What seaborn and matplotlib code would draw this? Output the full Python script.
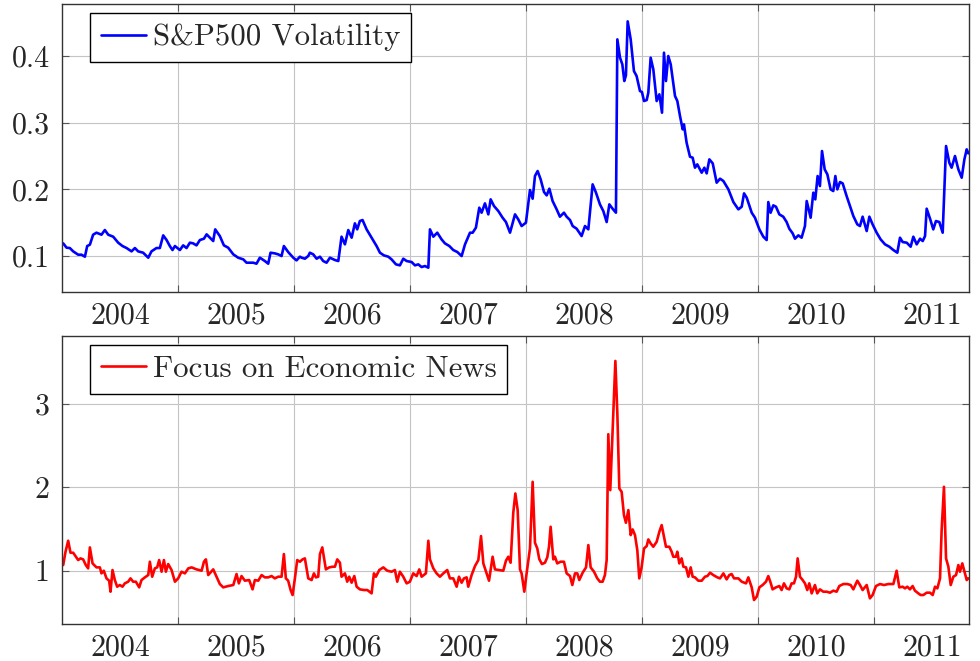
import matplotlib
matplotlib.use("Agg")
import matplotlib.pyplot as plt
import seaborn as sns
from matplotlib.ticker import FixedLocator, MultipleLocator, FormatStrFormatter, NullFormatter

# S&P500 volatility (decimal year, value)
vol_year = [
    2004.010, 2004.039, 2004.067, 2004.096, 2004.139, 2004.168, 2004.197, 2004.217, 2004.240, 2004.268,
    2004.297, 2004.340, 2004.369, 2004.398, 2004.441, 2004.484, 2004.521, 2004.556, 2004.599, 2004.628,
    2004.656, 2004.699, 2004.743, 2004.771, 2004.814, 2004.843, 2004.872, 2004.901, 2004.929, 2004.952,
    2004.973, 2005.016, 2005.044, 2005.073, 2005.102, 2005.130, 2005.159, 2005.188, 2005.223, 2005.246,
    2005.274, 2005.303, 2005.320, 2005.360, 2005.395, 2005.432, 2005.476, 2005.518, 2005.562, 2005.590,
    2005.648, 2005.676, 2005.705, 2005.748, 2005.777, 2005.797, 2005.834, 2005.863, 2005.892, 2005.912,
    2005.949, 2005.993, 2006.021, 2006.050,
    2006.065, 2006.093, 2006.122, 2006.136, 2006.165, 2006.194, 2006.223, 2006.251, 2006.280, 2006.309,
    2006.352, 2006.381, 2006.409, 2006.438, 2006.467, 2006.496, 2006.524, 2006.544, 2006.567, 2006.590,
    2006.625, 2006.668, 2006.711, 2006.740, 2006.774, 2006.812, 2006.840, 2006.878, 2006.912, 2006.941,
    2006.970, 2007.013, 2007.042, 2007.070, 2007.099, 2007.128, 2007.157, 2007.171, 2007.200, 2007.234,
    2007.271, 2007.300, 2007.338, 2007.372, 2007.407, 2007.444, 2007.473, 2007.516, 2007.539, 2007.567,
    2007.596, 2007.616, 2007.645, 2007.674, 2007.694, 2007.723, 2007.760, 2007.797, 2007.826, 2007.861,
    2007.904, 2007.932, 2007.961, 2007.998,
    2008.033, 2008.056, 2008.076, 2008.099, 2008.125, 2008.154, 2008.177, 2008.200, 2008.228, 2008.263,
    2008.291, 2008.326, 2008.349, 2008.378, 2008.401, 2008.435, 2008.478, 2008.507, 2008.536, 2008.573,
    2008.602, 2008.636, 2008.665, 2008.694, 2008.717, 2008.745, 2008.774, 2008.786, 2008.809, 2008.829,
    2008.846, 2008.860, 2008.875, 2008.901, 2008.929, 2008.952, 2008.981, 2008.998, 2009.016, 2009.039,
    2009.053, 2009.073, 2009.096, 2009.125, 2009.148, 2009.171, 2009.188, 2009.205, 2009.225, 2009.246,
    2009.283, 2009.303, 2009.326, 2009.349, 2009.360, 2009.383, 2009.412, 2009.435, 2009.455, 2009.475,
    2009.513, 2009.536, 2009.556, 2009.579, 2009.608, 2009.642, 2009.671, 2009.700, 2009.743, 2009.786,
    2009.829, 2009.858, 2009.878, 2009.901, 2009.944, 2009.972, 2010.010,
    2010.044, 2010.073, 2010.087, 2010.107, 2010.130, 2010.153, 2010.182, 2010.216, 2010.245, 2010.268,
    2010.297, 2010.317, 2010.346, 2010.374, 2010.403, 2010.418, 2010.452, 2010.475, 2010.492, 2010.512,
    2010.532, 2010.550, 2010.573, 2010.596, 2010.624, 2010.647, 2010.665, 2010.682, 2010.705, 2010.728,
    2010.762, 2010.791, 2010.820, 2010.854, 2010.877, 2010.900, 2010.935, 2010.958, 2010.986, 2011.021,
    2011.055, 2011.093, 2011.130, 2011.165, 2011.199, 2011.222, 2011.245, 2011.280, 2011.314, 2011.337,
    2011.366, 2011.395, 2011.418, 2011.438, 2011.452, 2011.481, 2011.509, 2011.532, 2011.561, 2011.590,
    2011.619, 2011.647, 2011.667, 2011.696, 2011.725, 2011.754, 2011.777, 2011.797, 2011.811,
]
vol_value = [
    0.119, 0.1125, 0.112, 0.107, 0.102, 0.102, 0.099, 0.115, 0.117, 0.132,
    0.135, 0.132, 0.139, 0.132, 0.129, 0.120, 0.115, 0.112, 0.107, 0.112,
    0.107, 0.105, 0.0975, 0.107, 0.112, 0.112, 0.131, 0.124, 0.115, 0.109,
    0.115, 0.109, 0.116, 0.112, 0.120, 0.119, 0.116, 0.124, 0.126, 0.1325,
    0.1275, 0.1225, 0.140, 0.130, 0.116, 0.1125, 0.1025, 0.0975, 0.095, 0.090,
    0.090, 0.0885, 0.0975, 0.0925, 0.0885, 0.105, 0.104, 0.1025, 0.100, 0.115,
    0.106, 0.0975, 0.0935, 0.099,
    0.0975, 0.096, 0.100, 0.105, 0.1025, 0.096, 0.099, 0.0925, 0.090, 0.0975,
    0.094, 0.0925, 0.129, 0.1175, 0.139, 0.1275, 0.149, 0.140, 0.1525, 0.154,
    0.140, 0.1275, 0.115, 0.105, 0.101, 0.099, 0.095, 0.0875, 0.086, 0.096,
    0.0925, 0.091, 0.086, 0.0875, 0.0835, 0.085, 0.0825, 0.140, 0.129, 0.135,
    0.125, 0.119, 0.115, 0.109, 0.106, 0.100, 0.1175, 0.135, 0.135, 0.1425,
    0.1725, 0.165, 0.179, 0.1625, 0.185, 0.175, 0.1675, 0.1575, 0.151, 0.135,
    0.1625, 0.155, 0.145, 0.150,
    0.199, 0.186, 0.220, 0.2275, 0.215, 0.196, 0.191, 0.201, 0.1825, 0.170,
    0.159, 0.165, 0.159, 0.154, 0.145, 0.141, 0.130, 0.145, 0.140, 0.2075,
    0.195, 0.1775, 0.1675, 0.151, 0.1775, 0.171, 0.165, 0.425, 0.3975, 0.3875,
    0.3625, 0.371, 0.452, 0.425, 0.3775, 0.370, 0.3475, 0.346, 0.3325, 0.334,
    0.345, 0.3975, 0.380, 0.3325, 0.3425, 0.315, 0.405, 0.3625, 0.400, 0.3875,
    0.340, 0.3325, 0.310, 0.290, 0.2975, 0.270, 0.249, 0.2475, 0.2325, 0.2375,
    0.225, 0.2325, 0.224, 0.245, 0.239, 0.210, 0.216, 0.2125, 0.200, 0.181,
    0.170, 0.174, 0.194, 0.1875, 0.165, 0.1575, 0.140,
    0.129, 0.124, 0.181, 0.165, 0.176, 0.174, 0.1625, 0.159, 0.151, 0.141,
    0.134, 0.126, 0.131, 0.1275, 0.145, 0.1825, 0.1575, 0.195, 0.185, 0.220,
    0.205, 0.2575, 0.230, 0.2225, 0.200, 0.1975, 0.220, 0.200, 0.211, 0.209,
    0.190, 0.175, 0.160, 0.1475, 0.145, 0.159, 0.1375, 0.159, 0.1475, 0.135,
    0.125, 0.1175, 0.114, 0.109, 0.105, 0.1275, 0.121, 0.120, 0.114, 0.129,
    0.1175, 0.126, 0.1225, 0.130, 0.171, 0.156, 0.140, 0.1525, 0.151, 0.135,
    0.265, 0.240, 0.2325, 0.250, 0.230, 0.2175, 0.245, 0.260, 0.254,
]

# Focus on economic news (decimal year, value)
news_year = [
    2004.010, 2004.030, 2004.053, 2004.073, 2004.096, 2004.119, 2004.139, 2004.159, 2004.182, 2004.205,
    2004.225, 2004.240, 2004.263, 2004.297, 2004.326, 2004.340, 2004.360, 2004.383, 2004.406, 2004.418,
    2004.435, 2004.455, 2004.475, 2004.498, 2004.521, 2004.541, 2004.570, 2004.590, 2004.613, 2004.636,
    2004.665, 2004.685, 2004.714, 2004.743, 2004.757, 2004.777, 2004.800, 2004.820, 2004.837, 2004.858,
    2004.878, 2004.895, 2004.915, 2004.944, 2004.973, 2005.001, 2005.030, 2005.059, 2005.088, 2005.117,
    2005.159, 2005.203, 2005.223, 2005.240, 2005.260, 2005.303, 2005.332, 2005.360, 2005.389, 2005.432,
    2005.476, 2005.504, 2005.524, 2005.547, 2005.576, 2005.613, 2005.642, 2005.662, 2005.691, 2005.720,
    2005.748, 2005.777, 2005.806, 2005.834, 2005.863, 2005.892, 2005.912, 2005.929, 2005.949, 2005.970,
    2005.987, 2006.007, 2006.027, 2006.050,
    2006.073, 2006.093, 2006.122, 2006.151, 2006.171, 2006.188, 2006.208, 2006.223, 2006.243, 2006.274,
    2006.303, 2006.332, 2006.352, 2006.372, 2006.395, 2006.409, 2006.438, 2006.458, 2006.475, 2006.496,
    2006.519, 2006.539, 2006.567, 2006.602, 2006.631, 2006.668, 2006.688, 2006.705, 2006.734, 2006.769,
    2006.803, 2006.840, 2006.869, 2006.889, 2006.912, 2006.941, 2006.970, 2006.998, 2007.027, 2007.056,
    2007.079, 2007.099, 2007.136, 2007.157, 2007.171, 2007.200, 2007.228, 2007.257, 2007.286, 2007.320,
    2007.343, 2007.372, 2007.401, 2007.421, 2007.444, 2007.464, 2007.487, 2007.501, 2007.530, 2007.559,
    2007.588, 2007.611, 2007.631, 2007.659, 2007.680, 2007.711, 2007.731, 2007.769, 2007.803, 2007.826,
    2007.846, 2007.866, 2007.889, 2007.907, 2007.927, 2007.947, 2007.961, 2007.984, 2008.004, 2008.033,
    2008.056, 2008.076, 2008.096, 2008.113, 2008.136, 2008.162, 2008.182, 2008.197, 2008.211, 2008.234,
    2008.248, 2008.268, 2008.297, 2008.326, 2008.349, 2008.378, 2008.398, 2008.421, 2008.441, 2008.458,
    2008.487, 2008.516, 2008.536, 2008.556, 2008.585, 2008.613, 2008.636, 2008.659, 2008.679, 2008.694,
    2008.708, 2008.725, 2008.769, 2008.786, 2008.803, 2008.823, 2008.843, 2008.860, 2008.881, 2008.901,
    2008.918, 2008.938, 2008.958, 2008.975, 2008.995, 2009.016, 2009.039, 2009.053, 2009.073, 2009.096,
    2009.125, 2009.148, 2009.168, 2009.188, 2009.205, 2009.234, 2009.254, 2009.268, 2009.291, 2009.303,
    2009.320, 2009.340, 2009.355, 2009.378, 2009.398, 2009.418, 2009.435, 2009.455, 2009.484, 2009.513,
    2009.541, 2009.562, 2009.585, 2009.613, 2009.648, 2009.671, 2009.700, 2009.728, 2009.751, 2009.771,
    2009.792, 2009.829, 2009.858, 2009.895, 2009.915, 2009.944, 2009.964, 2009.987, 2010.010,
    2010.038, 2010.067, 2010.087, 2010.107, 2010.124, 2010.153, 2010.182, 2010.202, 2010.222, 2010.245,
    2010.268, 2010.288, 2010.308, 2010.326, 2010.340, 2010.360, 2010.383, 2010.403, 2010.423, 2010.440,
    2010.461, 2010.489, 2010.509, 2010.532, 2010.561, 2010.590, 2010.619, 2010.647, 2010.676, 2010.699,
    2010.734, 2010.768, 2010.797, 2010.820, 2010.854, 2010.877, 2010.900, 2010.935, 2010.963, 2010.986,
    2011.015, 2011.050, 2011.084, 2011.122, 2011.165, 2011.193, 2011.216, 2011.245, 2011.265, 2011.285,
    2011.308, 2011.331, 2011.351, 2011.380, 2011.400, 2011.423, 2011.452, 2011.481, 2011.504, 2011.524,
    2011.544, 2011.567, 2011.581, 2011.601, 2011.619, 2011.639, 2011.659, 2011.682, 2011.705, 2011.725,
    2011.739, 2011.759, 2011.782, 2011.797, 2011.811,
]
news_value = [
    1.068, 1.228, 1.360, 1.216, 1.216, 1.168, 1.128, 1.148, 1.136, 1.068,
    1.028, 1.280, 1.088, 1.040, 1.040, 0.968, 1.000, 0.908, 0.880, 0.748,
    1.008, 0.888, 0.808, 0.828, 0.808, 0.848, 0.868, 0.908, 0.868, 0.868,
    0.800, 0.888, 0.920, 0.948, 1.108, 0.928, 1.028, 1.040, 1.128, 0.988,
    1.128, 0.988, 1.080, 1.008, 0.868, 0.908, 0.988, 0.968, 1.028, 1.040,
    1.016, 1.000, 1.108, 1.136, 0.948, 1.016, 0.928, 0.840, 0.800, 0.816,
    0.828, 0.960, 0.848, 0.936, 0.880, 0.888, 0.776, 0.888, 0.880, 0.948,
    0.920, 0.920, 0.936, 0.908, 0.928, 0.928, 1.200, 0.908, 0.880, 0.768,
    0.708, 0.908, 1.128, 1.108,
    1.136, 1.148, 0.908, 0.888, 0.968, 0.920, 0.928, 1.200, 1.280, 1.016,
    1.040, 1.048, 1.048, 1.136, 1.096, 0.928, 0.968, 0.868, 0.928, 0.856,
    0.936, 0.808, 0.776, 0.768, 0.768, 0.728, 0.968, 0.928, 1.008, 1.040,
    1.000, 0.988, 1.008, 0.868, 0.988, 0.928, 0.848, 0.868, 0.968, 0.936,
    1.016, 0.928, 0.968, 1.360, 1.136, 1.028, 0.968, 0.928, 0.968, 1.008,
    0.908, 0.908, 0.808, 0.928, 0.856, 0.908, 0.920, 0.808, 0.948, 1.056,
    1.128, 1.416, 1.088, 0.968, 0.880, 1.168, 1.016, 1.008, 1.000, 1.120,
    1.168, 1.096, 1.696, 1.928, 1.728, 1.016, 0.968, 0.748, 0.968, 1.268,
    2.068, 1.336, 1.268, 1.140, 1.080, 1.096, 1.160, 1.288, 1.528, 1.136,
    1.168, 1.088, 1.108, 1.108, 0.968, 0.936, 0.828, 0.968, 0.968, 0.888,
    0.976, 1.040, 1.308, 1.040, 0.988, 0.908, 0.868, 0.868, 0.948, 1.128,
    2.640, 1.968, 3.520, 2.888, 1.988, 1.948, 1.668, 1.576, 1.728, 1.428,
    1.496, 1.428, 1.248, 0.908, 1.040, 1.268, 1.296, 1.376, 1.328, 1.288,
    1.348, 1.468, 1.548, 1.408, 1.288, 1.288, 1.228, 1.168, 1.168, 1.228,
    1.088, 1.148, 1.048, 1.040, 0.928, 1.040, 0.928, 0.920, 0.880, 0.880,
    0.928, 0.936, 0.976, 0.948, 0.920, 0.908, 0.968, 0.896, 0.948, 0.960,
    0.908, 0.908, 0.868, 0.848, 0.920, 0.800, 0.648, 0.688, 0.800,
    0.828, 0.868, 0.936, 0.856, 0.776, 0.800, 0.816, 0.768, 0.848, 0.788,
    0.776, 0.848, 0.848, 0.928, 1.148, 0.928, 0.888, 0.848, 0.768, 0.848,
    0.728, 0.828, 0.728, 0.776, 0.748, 0.748, 0.736, 0.760, 0.748, 0.816,
    0.840, 0.840, 0.828, 0.776, 0.880, 0.828, 0.768, 0.828, 0.668, 0.708,
    0.816, 0.840, 0.828, 0.840, 0.840, 1.000, 0.800, 0.808, 0.788, 0.808,
    0.776, 0.816, 0.760, 0.728, 0.708, 0.708, 0.736, 0.736, 0.708, 0.808,
    0.788, 0.908, 1.488, 2.008, 1.148, 1.048, 0.828, 0.928, 0.948, 1.068,
    0.988, 1.088, 0.968, 0.888, 0.908,
]

years = [2004, 2005, 2006, 2007, 2008, 2009, 2010, 2011]

sns.set_style("white")
plt.rcParams['font.family'] = 'serif'
plt.rcParams['font.serif'] = ['cmr10', 'DejaVu Serif']
plt.rcParams['mathtext.fontset'] = 'cm'
plt.rcParams['axes.formatter.use_mathtext'] = True
plt.rcParams['axes.unicode_minus'] = False

fig = plt.figure(figsize=(9.8, 6.61), dpi=100)
ax1 = fig.add_axes([0.0633, 0.5582, 0.9255, 0.4357])
ax2 = fig.add_axes([0.0633, 0.0560, 0.9255, 0.4357])

sns.lineplot(x=vol_year, y=vol_value, ax=ax1, color='blue', lw=1.9,
             label='S&P500 Volatility')
sns.lineplot(x=news_year, y=news_value, ax=ax2, color='red', lw=1.9,
             label='Focus on Economic News')

ax1.set_ylim(0.046, 0.478)
ax1.yaxis.set_major_locator(MultipleLocator(0.1))
ax1.yaxis.set_major_formatter(FormatStrFormatter('%.1f'))
ax2.set_ylim(0.36, 3.82)
ax2.yaxis.set_major_locator(MultipleLocator(1))
ax2.yaxis.set_major_formatter(FormatStrFormatter('%d'))

for ax in (ax1, ax2):
    ax.set_xlim(2004.0, 2011.817)
    # labels sit in the middle of each year, grid on year boundaries
    ax.xaxis.set_major_locator(FixedLocator([y + 0.5 for y in years]))
    ax.set_xticklabels([str(y) for y in years])
    ax.xaxis.set_minor_locator(FixedLocator(years[1:]))
    ax.xaxis.set_minor_formatter(NullFormatter())
    ax.tick_params(axis='x', which='major', length=0, pad=7, labelsize=21.5)
    ax.tick_params(axis='x', which='minor', direction='in', length=5,
                   top=True, bottom=True, color='#555555', width=0.8)
    ax.tick_params(axis='y', which='major', direction='in', length=5,
                   left=True, right=True, color='#555555', width=0.8,
                   pad=9, labelsize=21.5)
    ax.grid(False)
    ax.grid(True, which='minor', axis='x', color='#c4c4c4', lw=0.8)
    ax.grid(True, which='major', axis='y', color='#c4c4c4', lw=0.8)
    ax.set_xlabel('')
    ax.set_ylabel('')
    for s in ax.spines.values():
        s.set_color('#333333')
        s.set_linewidth(1.0)
    leg = ax.legend(loc='upper left', bbox_to_anchor=(0.0308, 0.969),
                    fontsize=22.2, frameon=True, fancybox=False,
                    framealpha=1, edgecolor='black', borderpad=0.35,
                    handlelength=1.47, handletextpad=0.22, borderaxespad=0)
    leg.get_frame().set_linewidth(1.0)

fig.savefig('out.png', dpi=100)
